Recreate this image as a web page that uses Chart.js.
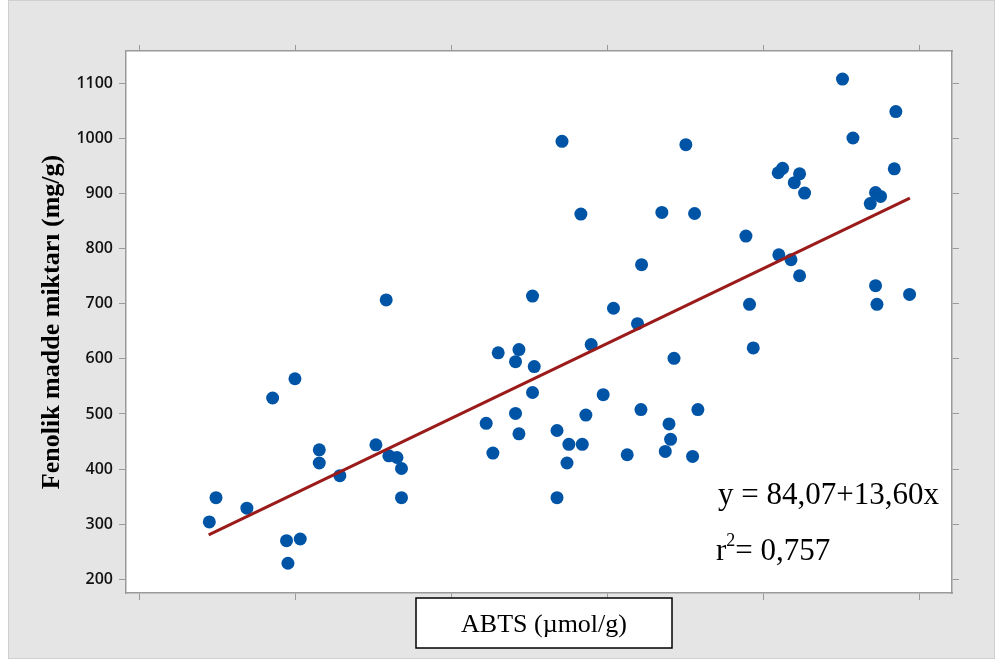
<!DOCTYPE html>
<html>
<head>
<meta charset="utf-8">
<script src="https://cdn.jsdelivr.net/npm/chart.js@4.4.1/dist/chart.umd.min.js"></script>
<style>
  body { margin: 0; background: #ffffff; }
  #wrap { width: 998px; height: 662px; }
</style>
</head>
<body>
<div id="wrap"><canvas id="scatterChart" width="998" height="662"></canvas></div>
<script>
// data
const abtsValues = [
    25.83, 19.98, 18.55, 21.54, 21.54, 25.17, 26.0, 26.52, 26.81, 26.81,
    22.86, 14.92, 14.49, 16.9, 19.44, 20.32, 19.53, 35.21, 40.4, 41.94,
    33.01, 34.34, 34.12, 35.32, 38.97, 35.21, 39.74, 34.12, 32.24, 34.34,
    38.63, 42.16, 36.78, 37.54, 38.4, 32.67, 37.42, 41.28, 36.78, 49.12,
    49.36, 44.28, 45.81, 43.96, 44.06, 43.72, 45.47, 57.2, 57.29, 59.38,
    55.08, 58.5, 55.75, 58.4, 45.04, 50.96, 51.24, 52.33, 51.99, 52.65,
    57.2, 57.52, 56.86, 43.5, 45.6, 48.89, 51.0, 51.78, 52.33, 42.2,
    37.1, 38.31
];
const fenolikValues = [
    707, 564, 529, 435, 411, 444, 424, 421, 401, 348,
    388, 348, 304, 329, 270, 273, 229, 714, 692, 664,
    611, 617, 595, 586, 626, 539, 535, 501, 483, 464,
    498, 508, 470, 445, 445, 429, 411, 426, 348, 699,
    620, 601, 508, 482, 454, 432, 423, 733, 699, 717,
    1108, 1049, 1001, 945, 989, 938, 946, 936, 920, 901,
    902, 895, 882, 866, 864, 823, 789, 780, 751, 771,
    995, 863
];
// fitted line ends
const fitX = [14.45, 59.4];
const fitY = [280.6, 891.9];
const yTicks = [200, 300, 400, 500, 600, 700, 800, 900, 1000, 1100];

const equationText = "y = 84,07+13,60x";
const r2Text = "= 0,757";

const axisGrey = "#9a9a9a";

const points = abtsValues.map((v, i) => ({ x: v, y: fenolikValues[i] }));
const linePts = fitX.map((v, i) => ({ x: v, y: fitY[i] }));

// grey panel, white plot area, text boxes
const decor = {
    id: "decor",
    beforeDraw(chart) {
        const { ctx, chartArea: { left, top, right, bottom } } = chart;
        ctx.save();
        ctx.fillStyle = "#ffffff";
        ctx.fillRect(0, 0, chart.width, chart.height);
        ctx.fillStyle = "#e5e5e5";
        ctx.fillRect(8, 1, 986, 657);
        ctx.strokeStyle = "#cfcfcf";
        ctx.lineWidth = 1;
        ctx.strokeRect(8.5, 0.5, 986, 658);
        ctx.fillStyle = "#ffffff";
        ctx.fillRect(left, top, right - left, bottom - top);
        ctx.restore();
    },
    afterDraw(chart) {
        const { ctx } = chart;
        ctx.save();
        // x axis title box
        ctx.fillStyle = "#ffffff";
        ctx.fillRect(416, 598, 256, 50);
        ctx.strokeStyle = "#000000";
        ctx.lineWidth = 1.5;
        ctx.strokeRect(416, 598, 256, 50);
        ctx.fillStyle = "#000000";
        ctx.font = "26px 'Liberation Serif'";
        ctx.textAlign = "center";
        ctx.textBaseline = "alphabetic";
        ctx.fillText("ABTS (\u00b5mol/g)", 544, 632);
        // equation
        ctx.textAlign = "left";
        ctx.font = "31px 'Liberation Serif'";
        ctx.fillText(equationText, 718, 504);
        ctx.fillText("r", 716, 560);
        const rw = ctx.measureText("r").width;
        ctx.font = "18px 'Liberation Serif'";
        ctx.fillText("2", 716 + rw, 546);
        const sw = ctx.measureText("2").width;
        ctx.font = "31px 'Liberation Serif'";
        ctx.fillText(r2Text, 716 + rw + sw, 560);
        ctx.restore();
    },
};

const sideAxis = (pos, size) => ({
    type: "linear",
    position: pos,
    ticks: { display: false },
    grid: { drawOnChartArea: false, color: axisGrey, tickLength: 7, lineWidth: 1 },
    border: { color: axisGrey, width: 1.5 },
    afterFit(scale) {
        if (pos === "left" || pos === "right") scale.width = size;
        else scale.height = size;
    },
});

const xBottom = Object.assign(sideAxis("bottom", 69), {
    min: 9.15, max: 62.1,
});
xBottom.ticks = { display: false, stepSize: 10, includeBounds: false };

const xTop = Object.assign(sideAxis("top", 51), {
    min: 9.15, max: 62.1,
});
xTop.ticks = { display: false, stepSize: 10, includeBounds: false };
xTop.grid = Object.assign({}, xTop.grid, { tickLength: 6 });

const yLeft = Object.assign(sideAxis("left", 126), {
    min: 175, max: 1159,
    afterBuildTicks(scale) {
        scale.ticks = yTicks.map((v) => ({ value: v }));
    },
    title: {
        display: true,
        text: "Fenolik madde miktar\u0131 (mg/g)",
        color: "#000000",
        font: { family: "'Liberation Serif'", size: 26, weight: "bold" },
        padding: { top: 37, bottom: 0 },
    },
});
yLeft.ticks = {
    display: true,
    color: "#111111",
    padding: 6,
    font: { family: "'Open Sans'", size: 16, weight: "600" },
    callback: (v) => String(v),
};

const yRight = Object.assign(sideAxis("right", 46), {
    min: 175, max: 1159,
    afterBuildTicks(scale) {
        scale.ticks = yTicks.map((v) => ({ value: v }));
    },
});

const config = {
    type: "scatter",
    data: {
        datasets: [
            {
                label: "Fenolik",
                data: points,
                pointRadius: 6.5,
                pointBackgroundColor: "#0054a6",
                pointBorderWidth: 0,
                order: 1,
            },
            {
                type: "line",
                label: "Fit",
                data: linePts,
                borderColor: "#9b1b1b",
                borderWidth: 3,
                pointRadius: 0,
                fill: false,
                order: 0,
            },
        ],
    },
    options: {
        responsive: false,
        animation: false,
        layout: { padding: 0 },
        plugins: {
            legend: { display: false },
            tooltip: { enabled: false },
        },
        scales: {
            x: xBottom,
            x2: xTop,
            y: yLeft,
            y2: yRight,
        },
    },
    plugins: [decor],
};

var ctx = document.getElementById("scatterChart").getContext("2d");
var scatterChart = new Chart(ctx, config);
</script>
</body>
</html>
